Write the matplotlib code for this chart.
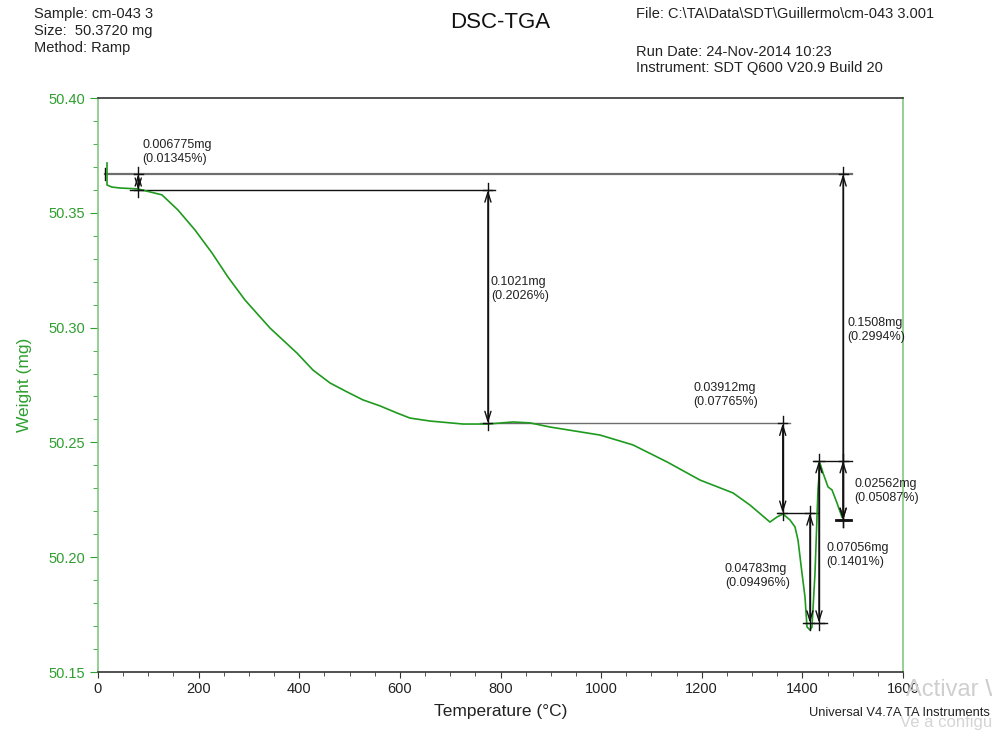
import matplotlib
matplotlib.use("Agg")
import matplotlib.pyplot as plt
from matplotlib.ticker import MultipleLocator, FormatStrFormatter

plt.rcParams['font.family'] = ['Liberation Sans', 'DejaVu Sans']

# ---- data ----
temperature = [17.9, 17.9, 27.8, 43.7, 79.5, 127.2, 159.0, 192.8, 226.6, 258.4, 292.2,
               341.9, 395.5, 427.3, 461.1, 494.9, 526.7, 560.5, 594.3, 620.1, 659.9,
               725.5, 775.2, 824.8, 858.6, 898.4, 997.8, 1063.3, 1131.0, 1196.5, 1262.1,
               1295.9, 1335.6, 1349.5, 1361.5, 1375.4, 1385.3, 1391.3, 1399.2, 1405.2,
               1409.2, 1415.1, 1419.1, 1425.1, 1431.0, 1435.0, 1441.0, 1451.0, 1458.9,
               1468.8, 1478.7]
weight = [50.3717, 50.3621, 50.3612, 50.3608, 50.3604, 50.3578, 50.3512, 50.3425, 50.3325,
          50.3220, 50.3120, 50.2998, 50.2889, 50.2815, 50.2759, 50.2720, 50.2685, 50.2659,
          50.2628, 50.2606, 50.2593, 50.2580, 50.2580, 50.2589, 50.2585, 50.2567, 50.2532,
          50.2489, 50.2415, 50.2336, 50.2280, 50.2227, 50.2153, 50.2175, 50.2188, 50.2162,
          50.2132, 50.2075, 50.1931, 50.1827, 50.1696, 50.1683, 50.1696, 50.1931, 50.2293,
          50.2410, 50.2367, 50.2306, 50.2293, 50.2236, 50.2175]

# horizontal reference levels: weight, start T, end T
ref_level = [50.3669, 50.3599, 50.2583, 50.2192, 50.1714, 50.2420, 50.2161]
ref_start = [14, 64, 759, 1350, 1401, 1421, 1467]
ref_end = [1499, 789, 1375, 1431, 1449, 1499, 1497]

# step arrows: T position, from weight, to weight
step_T = [80, 775, 1361, 1415, 1433, 1481, 1481]
step_from = [50.3669, 50.3599, 50.2583, 50.2192, 50.1714, 50.2420, 50.3669]
step_to = [50.3599, 50.2583, 50.2192, 50.1714, 50.2420, 50.2161, 50.2161]
step_labels = ["0.006775mg\n(0.01345%)", "0.1021mg\n(0.2026%)", "0.03912mg\n(0.07765%)",
               "0.04783mg\n(0.09496%)", "0.07056mg\n(0.1401%)", "0.02562mg\n(0.05087%)",
               "0.1508mg\n(0.2994%)"]
label_T = [88, 781, 1183, 1246, 1447, 1503, 1489]
label_W = [50.3821, 50.3225, 50.2763, 50.1975, 50.2066, 50.2345, 50.3046]

x_ticks = [0, 200, 400, 600, 800, 1000, 1200, 1400, 1600]
y_ticks = [50.15, 50.20, 50.25, 50.30, 50.35, 50.40]

header_left = ["Sample: cm-043 3", "Size:  50.3720 mg", "Method: Ramp"]
header_right = ["File: C:\\TA\\Data\\SDT\\Guillermo\\cm-043 3.001",
                "Run Date: 24-Nov-2014 10:23", "Instrument: SDT Q600 V20.9 Build 20"]

# ---- styles ----
GREEN_LINE = '#1e9a1e'
GREEN_TXT = '#2f9f2f'
GREEN_SPINE = '#82c882'

fig = plt.figure(figsize=(9.92, 7.30), dpi=100)
ax = fig.add_axes([98/992, 1-672/730, (903-98)/992, (672-98)/730])

ax.plot(temperature, weight, color=GREEN_LINE, lw=1.2, zorder=3)

for i, (lvl, s, e) in enumerate(zip(ref_level, ref_start, ref_end)):
    c = '#6e6e6e' if i in (0, 2) else '#111111'
    lw = 2.0 if i == 6 else (1.6 if i == 0 else 1.0)
    ax.plot([s, e], [lvl, lvl], color=c, lw=lw, zorder=2)
# small end tick on top line
ax.plot([ref_start[0], ref_start[0]], [ref_level[0] - 0.0025, ref_level[0] + 0.0025],
        color='#111111', lw=1.0)

ext = 0.003
for t, a, b in zip(step_T, step_from, step_to):
    lo, hi = min(a, b), max(a, b)
    ax.plot([t, t], [lo - ext, hi + ext], color='#111111', lw=1.0, zorder=4)
    ax.annotate('', xy=(t, hi), xytext=(t, lo),
                arrowprops=dict(arrowstyle='<->,head_length=0.7,head_width=0.22',
                                color='#111111', lw=1.0, shrinkA=0, shrinkB=0),
                zorder=4)
    ax.plot([t - 9, t + 9], [hi, hi], color='#111111', lw=1.0, zorder=4)
    ax.plot([t - 9, t + 9], [lo, lo], color='#111111', lw=1.0, zorder=4)

for lab, t, w in zip(step_labels, label_T, label_W):
    ax.text(t, w, lab, ha='left', va='top', fontsize=9, color='#222222',
            linespacing=1.25, zorder=5)

ax.set_xlim(0, 1600)
ax.set_ylim(50.15, 50.40)
ax.set_xticks(x_ticks)
ax.set_yticks(y_ticks)
ax.xaxis.set_minor_locator(MultipleLocator(50))
ax.yaxis.set_minor_locator(MultipleLocator(0.01))
ax.yaxis.set_major_formatter(FormatStrFormatter('%.2f'))

ax.spines['left'].set_color(GREEN_SPINE)
ax.spines['right'].set_color(GREEN_SPINE)
ax.spines['top'].set_color('#333333')
ax.spines['bottom'].set_color('#333333')
for sp in ax.spines.values():
    sp.set_linewidth(1.2)

ax.tick_params(axis='y', which='major', direction='out', length=6, color=GREEN_TXT,
               labelcolor=GREEN_TXT, labelsize=10.5, pad=3)
ax.tick_params(axis='y', which='minor', direction='out', length=3.5, color=GREEN_TXT)
ax.tick_params(axis='x', which='major', direction='out', length=4, color='#333333',
               labelcolor='#222222', labelsize=10.5, pad=3)
ax.tick_params(axis='x', which='minor', direction='out', length=3, color='#333333')

ax.set_xlabel('Temperature (°C)', fontsize=12.5, color='#222222', labelpad=6)
ax.set_ylabel('Weight (mg)', fontsize=12.5, color=GREEN_TXT, labelpad=12)

# header
for txt, yp in zip(header_left, [14, 31, 48]):
    fig.text(34/992, 1-yp/730, txt, ha='left', va='center', fontsize=10.5, color='#222222')
fig.text(500/992, 1-22/730, "DSC-TGA", ha='center', va='center', fontsize=16,
         color='#111111')
for txt, yp in zip(header_right, [14, 52, 68]):
    fig.text(636/992, 1-yp/730, txt, ha='left', va='center', fontsize=10.5, color='#222222')

# watermark and footer
fig.text(906/992, 1-690/730, "Activar W", ha='left', va='center', fontsize=17,
         color='#cfcfcf', zorder=0)
fig.text(900/992, 1-723/730, "Ve a configu", ha='left', va='center', fontsize=12,
         color='#d5d5d5', zorder=0)
fig.text(990/992, 1-713/730, "Universal V4.7A TA Instruments", ha='right', va='center',
         fontsize=9.3, color='#222222')

fig.savefig('out.png', dpi=100)
